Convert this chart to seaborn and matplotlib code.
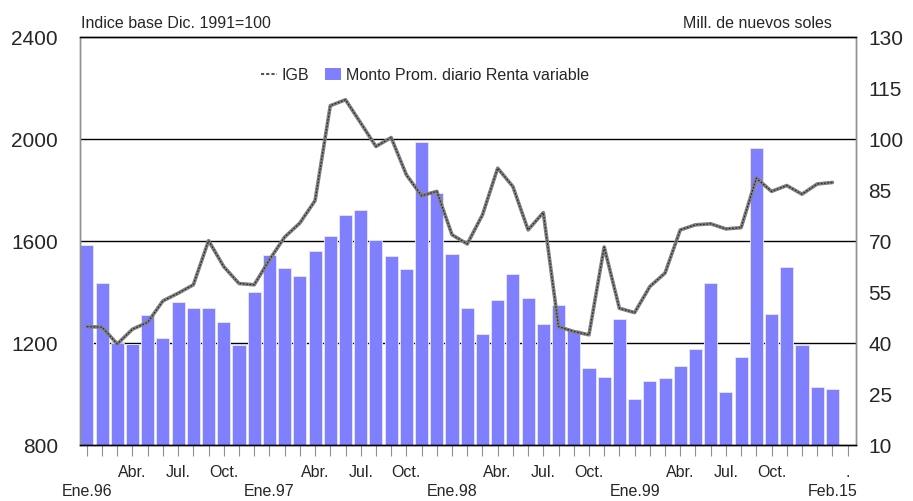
import numpy as np
import pandas as pd
import matplotlib
matplotlib.use('Agg')
import matplotlib.pyplot as plt
from matplotlib.lines import Line2D
from matplotlib.patches import Patch
import seaborn as sns

# monthly data, Ene.96 .. Feb.00 (50 months)
monto = [68.8, 57.6, 40.0, 39.7, 48.2, 41.4, 52.0, 50.4, 50.4, 46.1,
         39.5, 55.1, 66.0, 62.1, 59.8, 67.1, 71.4, 77.6, 79.2, 70.4,
         65.7, 61.8, 99.2, 84.1, 66.2, 50.3, 42.6, 52.6, 60.3, 53.4,
         45.6, 51.3, 43.9, 32.6, 30.1, 47.1, 23.7, 28.9, 29.9, 33.3,
         38.4, 57.6, 25.7, 36.0, 97.4, 48.5, 62.4, 39.5, 27.1, 26.5]
igb = [1265, 1263, 1197, 1255, 1282, 1366, 1396, 1429, 1602, 1500,
       1434, 1429, 1527, 1616, 1671, 1759, 2131, 2154, 2063, 1971,
       2006, 1860, 1778, 1795, 1625, 1589, 1703, 1886, 1814, 1644,
       1712, 1265, 1246, 1233, 1577, 1337, 1320, 1422, 1475, 1644,
       1664, 1668, 1648, 1653, 1847, 1795, 1818, 1784, 1824, 1830]
upper_labels = {3: 'Abr.', 6: 'Jul.', 9: 'Oct.', 15: 'Abr.', 18: 'Jul.', 21: 'Oct.',
                27: 'Abr.', 30: 'Jul.', 33: 'Oct.', 39: 'Abr.', 42: 'Jul.', 45: 'Oct.',
                50: '.'}
lower_labels = {0: 'Ene.96', 12: 'Ene.97', 24: 'Ene.98', 36: 'Ene.99', 49: 'Feb.15'}

df = pd.DataFrame({'mes': np.arange(len(monto)), 'monto': monto, 'igb': igb})

sns.set_style('white')
plt.rcParams['font.family'] = ['Liberation Sans', 'DejaVu Sans']

fig = plt.figure(figsize=(9.13, 5.01), dpi=100)
ax = fig.add_axes([80 / 913, 1 - 445.3 / 501, (856 - 80) / 913, (445.3 - 37) / 501])
ax2 = ax.twinx()

bar_color = '#8080FF'
sns.barplot(data=df, x='mes', y='monto', ax=ax, color=bar_color, saturation=1,
            width=0.86, edgecolor='#E8E8FF', linewidth=0.6, zorder=2)
ax.set_ylim(10, 130)
ax.set_xlim(-0.45, 50.55)
for v in [40, 70, 100]:
    ax.axhline(v, color='black', lw=1.0, zorder=1)
ax.set_ylabel('')
ax.set_xlabel('')

# x ticks: upper row on major ticks, lower row (years) on minor ticks
ticks = list(range(51))
ax.set_xticks(ticks)
ax.set_xticklabels([upper_labels.get(t, '') for t in ticks], fontsize=11.5)
ax.tick_params(axis='x', which='major', bottom=True, length=8, width=0.8,
               color='#909090', direction='out', pad=6)
ax.xaxis.remove_overlapping_locs = False
low_pos = sorted(lower_labels)
ax.set_xticks(low_pos, minor=True)
ax.set_xticklabels([lower_labels[p] for p in low_pos], minor=True, fontsize=11.5)
ax.tick_params(axis='x', which='minor', bottom=True, length=0, pad=28)

# IGB on the left axis
sns.lineplot(data=df, x='mes', y='igb', ax=ax2, color='#808080', lw=2.6, zorder=3)
sns.lineplot(data=df, x='mes', y='igb', ax=ax2, color='#222222', lw=0.8,
             zorder=4).lines[-1].set_dashes([1.5, 1.5])
ax2.set_ylim(800, 2400)
ax2.set_xlim(-0.45, 50.55)
ax2.set_ylabel('')
ax2.set_xlabel('')

# swap sides: IGB scale left, bars scale right
ax2.yaxis.tick_left()
ax2.set_yticks([800, 1200, 1600, 2000, 2400])
ax2.tick_params(axis='y', length=0, labelsize=15, pad=16)
ax.yaxis.tick_right()
ax.set_yticks(np.arange(10, 131, 15))
ax.tick_params(axis='y', length=0, labelsize=15, pad=9)

for a in (ax, ax2):
    a.spines['top'].set_color('black')
    a.spines['bottom'].set_color('black')
    a.spines['top'].set_linewidth(1.0)
    a.spines['bottom'].set_linewidth(1.0)
    for s in ('left', 'right'):
        a.spines[s].set_color('#909090')
        a.spines[s].set_linestyle((0, (1, 1)))
        a.spines[s].set_linewidth(1.0)

fig.text(81 / 913, 1 - 23 / 501, 'Indice base Dic. 1991=100', fontsize=11.5,
         va='center', ha='left')
fig.text(832 / 913, 1 - 23 / 501, 'Mill. de nuevos soles', fontsize=11.5,
         va='center', ha='right')

handles = [Line2D([0], [0], color='#555555', lw=1.5, ls=(0, (1.5, 1))),
           Patch(facecolor=bar_color, edgecolor='none')]
ax2.legend(handles, ['IGB', 'Monto Prom. diario Renta variable'], ncol=2,
           frameon=False, loc='center left', bbox_to_anchor=(261 / 913, 1 - 75 / 501),
           bbox_transform=fig.transFigure, fontsize=11.5, handlelength=1.0,
           handletextpad=0.3, columnspacing=1.0, borderpad=0, borderaxespad=0)

fig.savefig('out.png', dpi=100)
